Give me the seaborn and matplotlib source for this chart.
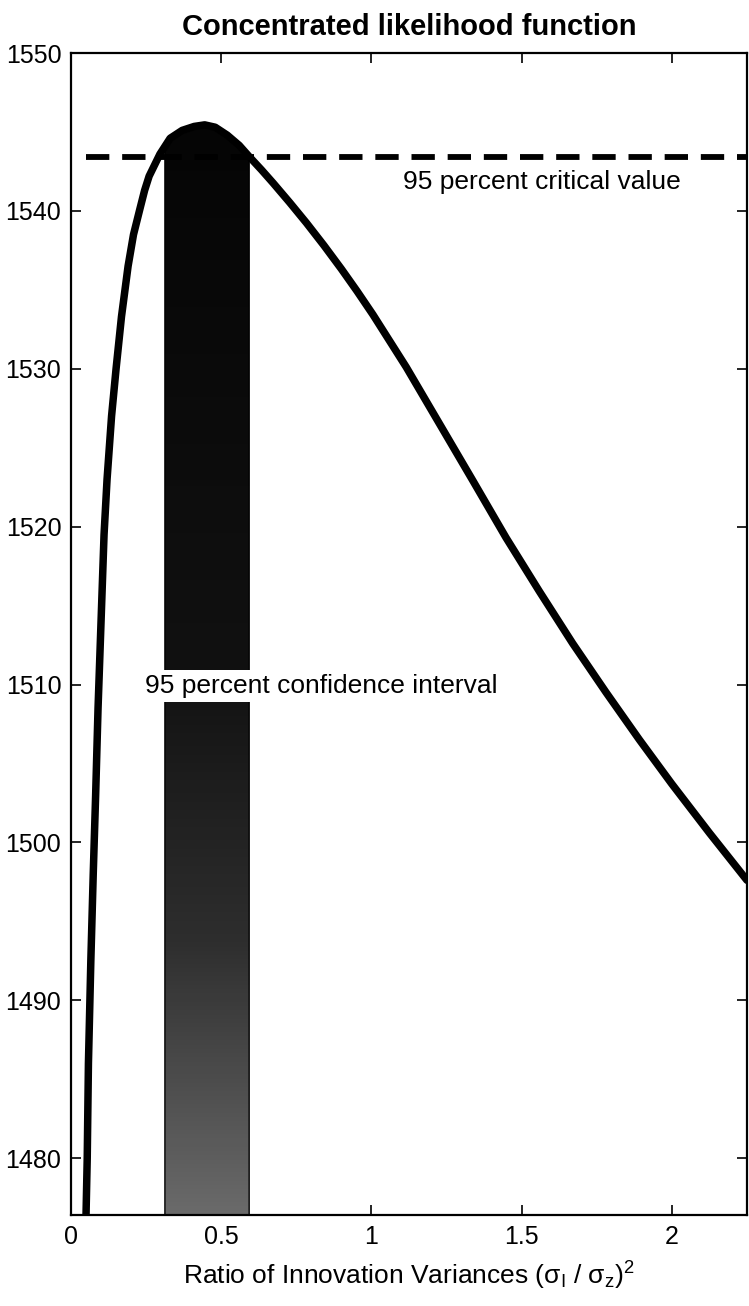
import numpy as np
import pandas as pd
import matplotlib
matplotlib.use('Agg')
import matplotlib.pyplot as plt
import seaborn as sns
from matplotlib.colors import LinearSegmentedColormap
from matplotlib.patches import Polygon

# values
ratio = [0.050, 0.054, 0.058, 0.066, 0.074, 0.082, 0.090, 0.100, 0.110, 0.120,
         0.135, 0.150, 0.168, 0.190, 0.208, 0.229, 0.245, 0.260, 0.278, 0.296,
         0.330, 0.370, 0.410, 0.445, 0.480, 0.520, 0.560, 0.595, 0.634, 0.673,
         0.728, 0.784, 0.842, 0.900, 0.952, 1.005, 1.116, 1.227, 1.338, 1.448,
         1.559, 1.670, 1.781, 1.892, 2.000, 2.125, 2.250]
likelihood = [1476.4, 1480.0, 1486.0, 1492.5, 1498.0, 1503.0, 1508.5, 1514.0, 1519.5, 1523.0,
              1527.0, 1530.0, 1533.3, 1536.5, 1538.5, 1540.1, 1541.3, 1542.2, 1542.9, 1543.6,
              1544.6, 1545.1, 1545.35, 1545.45, 1545.3, 1544.8, 1544.15, 1543.4, 1542.6, 1541.76,
              1540.53, 1539.23, 1537.81, 1536.32, 1534.92, 1533.43, 1530.1, 1526.5, 1522.9, 1519.3,
              1515.9, 1512.6, 1509.5, 1506.5, 1503.7, 1500.6, 1497.6]
critical_value = 1543.4
critical_span = [0.05, 2.25]
ci_bounds = [0.3125, 0.593]
x_ticks = [0, 0.5, 1, 1.5, 2]
x_tick_labels = ['0', '0.5', '1', '1.5', '2']
y_ticks = [1480, 1490, 1500, 1510, 1520, 1530, 1540, 1550]
x_lim = [0, 2.25]
y_lim = [1476.4, 1550]

sns.set_style('ticks')
plt.rcParams['font.family'] = ['Liberation Sans', 'DejaVu Sans']
plt.rcParams['mathtext.fontset'] = 'custom'
plt.rcParams['mathtext.rm'] = 'Liberation Sans'
plt.rcParams['mathtext.it'] = 'Liberation Sans:italic'
plt.rcParams['text.color'] = 'black'
plt.rcParams['axes.labelcolor'] = 'black'
plt.rcParams['xtick.color'] = 'black'
plt.rcParams['ytick.color'] = 'black'

df = pd.DataFrame({'ratio': ratio, 'likelihood': likelihood})

fig = plt.figure(figsize=(7.49, 13.06), dpi=100)
ax = fig.add_axes([0.0948, 0.0697, 0.9025, 0.8897])

# shaded confidence band under the curve
lo, hi = ci_bounds
inside = [x for x in ratio if lo < x < hi]
top = np.interp([lo] + inside + [hi], ratio, likelihood)
poly_x = [lo] + inside + [hi, hi, lo]
poly_y = list(top) + [y_lim[0], y_lim[0]]
band = Polygon(np.column_stack([poly_x, poly_y]), closed=True,
               facecolor='none', edgecolor='black', linewidth=1.0, zorder=2)
ax.add_patch(band)
cmap = LinearSegmentedColormap.from_list(
    'band', [(0.0, '#6a6a6a'), (0.25, '#2e2e2e'), (0.5, '#111111'), (1.0, '#050505')])
grad = np.linspace(0, 1, 256).reshape(-1, 1)
img = ax.imshow(grad, extent=[lo, hi, y_lim[0], max(top)], origin='lower',
                aspect='auto', cmap=cmap, zorder=1)
img.set_clip_path(band)

sns.lineplot(data=df, x='ratio', y='likelihood', color='black', linewidth=5.4,
             sort=False, ax=ax, zorder=4)
ax.plot(critical_span, [critical_value, critical_value], color='black',
        linewidth=4.2, dashes=(4.0, 2.2), solid_capstyle='butt', zorder=3)

ax.text(1.104, 1541.8, '95 percent critical value', fontsize=19,
        ha='left', va='center', zorder=5)
ax.text(0.245, 1509.9, '95 percent confidence interval', fontsize=19,
        ha='left', va='center', zorder=5,
        bbox=dict(facecolor='white', edgecolor='none', pad=3))

ax.set_xlim(x_lim)
ax.set_ylim(y_lim)
ax.set_xticks(x_ticks)
ax.set_xticklabels(x_tick_labels)
ax.set_yticks(y_ticks)
ax.tick_params(direction='in', length=7.5, width=1.2, labelsize=18, pad=7,
               top=True, right=True)
for s in ax.spines.values():
    s.set_linewidth(1.6)
    s.set_color('black')

ax.set_xlabel(r'Ratio of Innovation Variances (σ$_{\rm I}$ / σ$_{\rm z}$)$^{2}$',
              fontsize=19, labelpad=8)
ax.set_ylabel('')
ax.set_title('Concentrated likelihood function', fontsize=21, fontweight='bold', pad=13)

fig.savefig('out.png', dpi=100)
